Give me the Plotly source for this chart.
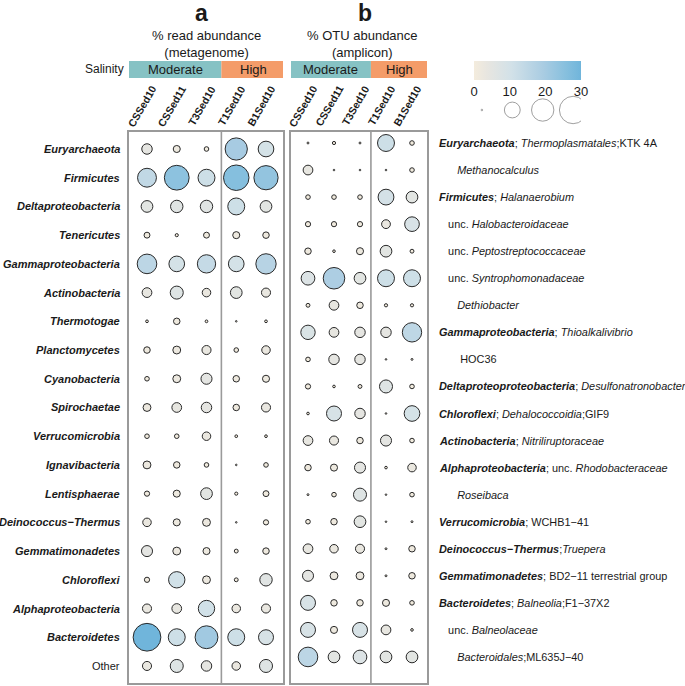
import numpy as np
import plotly.graph_objects as go

# ---------------- data ----------------
samples = ["CSSed10", "CSSed11", "T3Sed10", "T1Sed10", "B1Sed10"]
salinity = ["Moderate", "Moderate", "Moderate", "High", "High"]

phyla_a = ["Euryarchaeota", "Firmicutes", "Deltaproteobacteria", "Tenericutes",
           "Gammaproteobacteria", "Actinobacteria", "Thermotogae", "Planctomycetes",
           "Cyanobacteria", "Spirochaetae", "Verrucomicrobia", "Ignavibacteria",
           "Lentisphaerae", "Deinococcus\u2212Thermus", "Gemmatimonadetes", "Chloroflexi",
           "Alphaproteobacteria", "Bacteroidetes", "Other"]

meta_CSSed10 = [4.4, 14.3, 5.5, 1.4, 15.4, 3.8, 0.3, 1.7, 0.85, 2.5, 0.85, 2.5, 1.1, 2.9, 4.9, 1.1, 3.3, 30.8, 3.3]
meta_CSSed11 = [2.0, 24.6, 6.2, 0.4, 9.8, 6.8, 1.7, 2.5, 2.5, 3.8, 0.85, 1.7, 2.0, 2.0, 2.5, 10.7, 3.8, 11.5, 6.8]
meta_T3Sed10 = [0.85, 11.5, 6.2, 1.4, 13.4, 2.9, 0.3, 3.3, 4.9, 4.4, 2.9, 0.85, 5.5, 2.5, 2.0, 2.5, 10.7, 20.9, 4.4]
meta_T1Sed10 = [19.8, 26.0, 11.5, 2.0, 9.8, 5.5, 0.05, 0.85, 1.7, 1.7, 0.3, 0.07, 0.4, 0.05, 0.6, 0.6, 2.9, 11.5, 2.9]
meta_B1Sed10 = [9.8, 23.5, 5.5, 1.7, 16.5, 3.3, 0.3, 2.9, 2.0, 3.3, 0.3, 0.85, 1.4, 1.1, 1.7, 6.2, 3.3, 9.0, 6.8]

taxa_b = [
    "<b><i>Euryarchaeota</i></b>; <i>Thermoplasmatales</i>;KTK 4A",
    "\u00a0\u00a0\u00a0\u00a0\u00a0\u00a0<i>Methanocalculus</i>",
    "<b><i>Firmicutes</i></b>; <i>Halanaerobium</i>",
    "\u00a0\u00a0\u00a0unc. <i>Halobacteroidaceae</i>",
    "\u00a0\u00a0\u00a0unc. <i>Peptostreptococcaceae</i>",
    "\u00a0\u00a0\u00a0unc. <i>Syntrophomonadaceae</i>",
    "\u00a0\u00a0\u00a0\u00a0\u00a0\u00a0<i>Dethiobacter</i>",
    "<b><i>Gammaproteobacteria</i></b>; <i>Thioalkalivibrio</i>",
    "\u00a0\u00a0\u00a0\u00a0\u00a0\u00a0\u00a0HOC36",
    "<b><i>Deltaproteoproteobacteria</i></b>; <i>Desulfonatronobacter</i>",
    "<b><i>Chloroflexi</i></b>; <i>Dehalococcoidia</i>;GIF9",
    "<b><i>Actinobacteria</i></b>; <i>Nitriliruptoraceae</i>",
    "<b><i>Alphaproteobacteria</i></b>; unc. <i>Rhodobacteraceae</i>",
    "\u00a0\u00a0\u00a0\u00a0\u00a0\u00a0<i>Roseibaca</i>",
    "<b><i>Verrucomicrobia</i></b>; WCHB1\u221241",
    "<b><i>Deinococcus\u2212Thermus</i></b>;<i>Truepera</i>",
    "<b><i>Gemmatimonadetes</i></b>; BD2\u221211 terrestrial group",
    "<b><i>Bacteroidetes</i></b>; <i>Balneolia</i>;F1\u221237X2",
    "\u00a0\u00a0\u00a0unc. <i>Balneolaceae</i>",
    "\u00a0\u00a0\u00a0\u00a0\u00a0\u00a0<i>Bacteroidales</i>;ML635J\u221240",
]

otu_CSSed10 = [0.15, 3.8, 0.85, 1.1, 1.7, 7.5, 0.6, 8.3, 0.85, 1.1, 0.28, 3.8, 1.7, 0.15, 0.85, 3.8, 4.9, 9.0, 9.0, 15.4]
otu_CSSed11 = [0.42, 0.1, 0.85, 1.1, 0.28, 18.6, 3.8, 3.8, 4.4, 0.28, 9.0, 3.3, 2.0, 0.85, 1.7, 2.9, 2.5, 1.7, 2.0, 5.5]
otu_T3Sed10 = [0.15, 0.1, 0.85, 1.1, 2.0, 5.5, 1.7, 4.4, 4.4, 0.6, 4.4, 1.7, 4.9, 6.8, 5.5, 3.3, 2.5, 1.7, 9.0, 7.5]
otu_T1Sed10 = [11.5, 0.07, 10.0, 3.1, 5.5, 11.5, 0.42, 4.4, 0.07, 6.8, 0.07, 4.9, 0.28, 0.07, 0.07, 0.15, 0.15, 2.0, 3.8, 5.5]
otu_B1Sed10 = [0.85, 0.85, 5.5, 8.6, 0.6, 11.5, 0.42, 15.0, 0.15, 0.85, 9.8, 0.85, 2.9, 0.85, 0.15, 1.7, 1.7, 0.85, 0.28, 5.5]

legend_values = [0, 10, 20, 30]

meta = [meta_CSSed10, meta_CSSed11, meta_T3Sed10, meta_T1Sed10, meta_B1Sed10]
otu = [otu_CSSed10, otu_CSSed11, otu_T3Sed10, otu_T1Sed10, otu_B1Sed10]

# ---------------- styling helpers ----------------
W, H = 685, 686
FONT = "Liberation Sans, Arial, Helvetica, sans-serif"
TXT = "#1a1a1a"


def fx(p):
    return p / W


def fy(p):
    return 1 - p / H


def size_of(v):
    return np.maximum(1.6, 5.0 * np.sqrt(np.asarray(v, dtype=float)))


colorscale = [[0.0, "#F4ECDD"], [0.12, "#E8E6E0"], [0.35, "#D2E1E8"],
              [0.65, "#A9CCE2"], [0.85, "#88C0DE"], [1.0, "#70B5DB"]]

# panel pixel geometry
A = dict(left=129, right=283, top=132, bottom=683, c0=147, cs=29.75, r0=149, rs=28.72)
B = dict(left=291, right=427, top=132, bottom=683, c0=308, cs=26.0, r0=143, rs=27.05)


def xr(P):
    return [(P["left"] - P["c0"]) / P["cs"], (P["right"] - P["c0"]) / P["cs"]]


def yr(P):
    return [(P["bottom"] - P["r0"]) / P["rs"], (P["top"] - P["r0"]) / P["rs"]]


fig = go.Figure()


def add_bubbles(vals, xa, ya):
    xs, ys, vs = [], [], []
    for j, col in enumerate(vals):
        for i, v in enumerate(col):
            xs.append(j)
            ys.append(i)
            vs.append(v)
    fig.add_trace(go.Scatter(
        x=xs, y=ys, mode="markers", xaxis=xa, yaxis=ya, showlegend=False,
        hoverinfo="skip",
        marker=dict(size=size_of(vs), color=vs, coloraxis="coloraxis",
                    line=dict(color="#2a2a2a", width=1), opacity=1),
    ))


add_bubbles(meta, "x", "y")
add_bubbles(otu, "x2", "y2")

# size legend
fig.add_trace(go.Scatter(
    x=legend_values, y=[0] * len(legend_values), mode="markers", xaxis="x3", yaxis="y3",
    showlegend=False, hoverinfo="skip",
    marker=dict(size=size_of(legend_values), color="rgba(255,255,255,0)",
                line=dict(color="#555555", width=0.8)),
))

ax_common = dict(showgrid=False, zeroline=False, showticklabels=False, ticks="",
                 showline=True, mirror=True, linecolor="#9a9a9a", linewidth=1.6)
noax = dict(visible=False, showgrid=False, zeroline=False)

fig.update_layout(
    width=W, height=H, margin=dict(l=0, r=0, t=0, b=0),
    paper_bgcolor="white", plot_bgcolor="white",
    font=dict(family=FONT, color=TXT),
    xaxis=dict(domain=[fx(A["left"]), fx(A["right"])], range=xr(A), anchor="y", **ax_common),
    yaxis=dict(domain=[fy(A["bottom"]), fy(A["top"])], range=yr(A), anchor="x", **ax_common),
    xaxis2=dict(domain=[fx(B["left"]), fx(B["right"])], range=xr(B), anchor="y2", **ax_common),
    yaxis2=dict(domain=[fy(B["bottom"]), fy(B["top"])], range=yr(B), anchor="x2", **ax_common),
    xaxis3=dict(domain=[fx(474), fx(581)], range=[-2.6, 32.6], anchor="y3", **noax),
    yaxis3=dict(domain=[fy(126), fy(94)], range=[-1, 1], anchor="x3", **noax),
    coloraxis=dict(
        colorscale=colorscale, cmin=0, cmax=30,
        colorbar=dict(orientation="h", x=fx(527.5), xanchor="center", y=fy(61), yanchor="top",
                      len=107, lenmode="pixels", thickness=19, thicknessmode="pixels",
                      outlinewidth=0, tickvals=legend_values, ticks="", xpad=0, ypad=0,
                      tickfont=dict(size=13, color=TXT, family=FONT)),
    ),
)

ann = []
shapes = []

for xa, P, nmod in (("x", A, 3), ("x2", B, 3)):
    xdiv = nmod - 0.5 + (0.0 if xa == "x" else -0.08)
    shapes.append(dict(type="line", xref=xa, yref="paper", x0=xdiv, x1=xdiv,
                       y0=fy(P["bottom"]), y1=fy(P["top"]),
                       line=dict(color="#9a9a9a", width=1.6)))
    rng = xr(P)
    groups = [("Moderate", rng[0], xdiv, "#86C2C4"), ("High", xdiv, rng[1] + 0.06, "#F49C69")]
    for name, a0, a1, colr in groups:
        shapes.append(dict(type="rect", xref=xa, yref="paper", x0=a0, x1=a1,
                           y0=fy(78), y1=fy(61), fillcolor=colr, line=dict(width=0), layer="below"))
        ann.append(dict(x=(a0 + a1) / 2, y=fy(69.5), xref=xa, yref="paper", text=name,
                        showarrow=False, font=dict(size=13, color=TXT), xanchor="center",
                        yanchor="middle"))
    for j, s in enumerate(samples):
        ann.append(dict(x=j, y=fy(106), xref=xa, yref="paper", text="<b>" + s + "</b>",
                        textangle=-60, showarrow=False, xshift=-5,
                        font=dict(size=10.5, color=TXT), xanchor="center", yanchor="middle"))

ann.append(dict(x=fx(126), y=fy(69.5), xref="paper", yref="paper", text="Salinity",
                showarrow=False, xanchor="right", yanchor="middle", font=dict(size=12, color=TXT)))

ann.append(dict(x=fx(201), y=fy(13), xref="paper", yref="paper", text="<b>a</b>",
                showarrow=False, font=dict(size=23, color=TXT), xanchor="center", yanchor="middle"))
ann.append(dict(x=fx(365), y=fy(13), xref="paper", yref="paper", text="<b>b</b>",
                showarrow=False, font=dict(size=23, color=TXT), xanchor="center", yanchor="middle"))
ann.append(dict(x=fx(206), y=fy(44), xref="paper", yref="paper",
                text="% read abundance<br>(metagenome)", showarrow=False,
                font=dict(size=13, color=TXT), xanchor="center", yanchor="middle"))
ann.append(dict(x=fx(362), y=fy(44), xref="paper", yref="paper",
                text="% OTU abundance<br>(amplicon)", showarrow=False,
                font=dict(size=13, color=TXT), xanchor="center", yanchor="middle"))

for i, name in enumerate(phyla_a):
    txt = name if name == "Other" else "<b><i>" + name + "</i></b>"
    ann.append(dict(x=fx(122), y=i, xref="paper", yref="y", text=txt, showarrow=False,
                    xanchor="right", yanchor="middle", font=dict(size=11, color=TXT)))

for i, name in enumerate(taxa_b):
    ann.append(dict(x=fx(437), y=i, xref="paper", yref="y2", text=name, showarrow=False,
                    xanchor="left", yanchor="middle", font=dict(size=10.9, color=TXT)))

fig.update_layout(annotations=ann, shapes=shapes)
fig.write_html("out.html", config={"displayModeBar": False},
               post_script="document.body.style.margin='0px';document.body.style.overflow='hidden';")
